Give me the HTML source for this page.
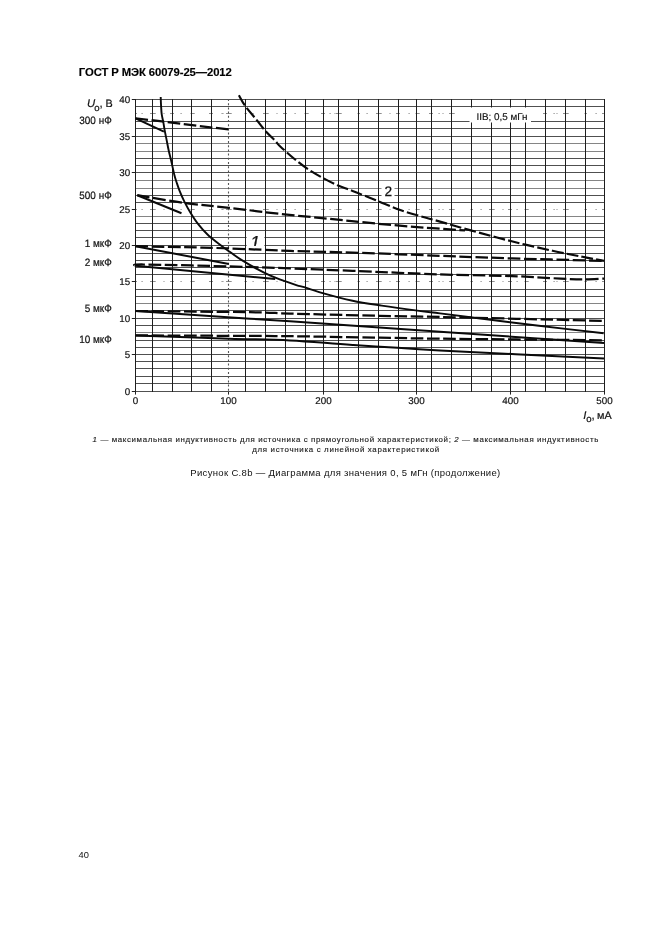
<!DOCTYPE html>
<html lang="ru"><head><meta charset="utf-8"><title>ГОСТ Р МЭК 60079-25—2012</title>
<style>
html,body{margin:0;padding:0;background:#fff;}
body{width:661px;height:936px;position:relative;overflow:hidden;font-family:"Liberation Sans",sans-serif;color:#111;}
.hdr{position:absolute;left:78.8px;top:65px;font-size:11.3px;font-weight:bold;letter-spacing:-0.1px;color:#000;-webkit-text-stroke:0.15px #000;white-space:nowrap;line-height:14px;}
.note{position:absolute;left:92.6px;top:435.2px;width:520px;font-size:7.9px;line-height:10.3px;letter-spacing:0.62px;-webkit-text-stroke:0.15px #222;text-align:left;word-spacing:-0.1px;color:#222;}
.note .l1{display:block;letter-spacing:0.645px;text-align:left;white-space:nowrap;}
.note .l2{display:block;letter-spacing:0.7px;text-align:left;padding-left:159.6px;white-space:nowrap;}
.cap{position:absolute;left:190.3px;top:467px;text-align:left;font-size:9.5px;letter-spacing:0.33px;line-height:12px;white-space:nowrap;}
.pg{position:absolute;left:78.5px;top:849px;font-size:9.3px;line-height:12px;letter-spacing:0.2px;}
</style></head><body>
<div class="hdr">ГОСТ Р МЭК 60079-25—2012</div>
<svg width="661" height="936" viewBox="0 0 661 936" style="position:absolute;left:0;top:0" text-rendering="geometricPrecision"><g shape-rendering="auto"><line x1="135" y1="391.50" x2="605" y2="391.50" stroke="#505050" stroke-width="1.0"/><line x1="135" y1="383.50" x2="605" y2="383.50" stroke="#505050" stroke-width="1.0"/><line x1="135" y1="376.50" x2="605" y2="376.50" stroke="#505050" stroke-width="1.0"/><line x1="135" y1="368.50" x2="605" y2="368.50" stroke="#505050" stroke-width="1.0"/><line x1="135" y1="361.50" x2="605" y2="361.50" stroke="#505050" stroke-width="1.0"/><line x1="135" y1="354.50" x2="605" y2="354.50" stroke="#505050" stroke-width="1.0"/><line x1="135" y1="347.50" x2="605" y2="347.50" stroke="#505050" stroke-width="1.0"/><line x1="135" y1="340.50" x2="605" y2="340.50" stroke="#505050" stroke-width="1.0"/><line x1="135" y1="332.50" x2="605" y2="332.50" stroke="#858585" stroke-width="1.0"/><line x1="135" y1="325.50" x2="605" y2="325.50" stroke="#505050" stroke-width="1.0"/><line x1="135" y1="318.50" x2="605" y2="318.50" stroke="#505050" stroke-width="1.0"/><line x1="135" y1="310.50" x2="605" y2="310.50" stroke="#505050" stroke-width="1.0"/><line x1="135" y1="303.50" x2="605" y2="303.50" stroke="#858585" stroke-width="1.0"/><line x1="135" y1="296.50" x2="605" y2="296.50" stroke="#505050" stroke-width="1.0"/><line x1="135" y1="289.50" x2="605" y2="289.50" stroke="#505050" stroke-width="1.0"/><path d="M135.5 281.5H137.0M141.5 281.5h1.2M150.0 281.5H155.7M163.5 281.5h1M170.0 281.5H174.0M180.5 281.5h1.2M190.5 281.5H194.7M209.0 281.5H213.0M221.5 281.5h1.2M222.5 281.5h1M226.0 281.5H231.7M244.5 281.5H247.0M252.5 281.5h1.2M263.0 281.5H268.7M276.5 281.5h1M283.0 281.5H287.0M294.5 281.5h1.2M304.5 281.5H308.7M321.0 281.5H325.0M329.5 281.5h1.2M334.5 281.5h1M336.0 281.5H341.7M357.5 281.5H360.0M366.5 281.5h1.2M376.0 281.5H381.7M389.5 281.5h1M396.0 281.5H400.0M408.5 281.5h1.2M415.5 281.5H419.7M429.0 281.5H433.0M438.5 281.5h1.2M442.5 281.5h1M449.0 281.5H454.7M470.5 281.5H473.0M480.5 281.5h1.2M489.0 281.5H494.7M502.5 281.5h1M508.0 281.5H512.0M516.5 281.5h1.2M524.5 281.5H528.7M543.0 281.5H547.0M553.5 281.5h1.2M556.5 281.5h1M563.0 281.5H568.7M584.5 281.5H587.0M595.5 281.5h1.2M602.0 281.5H604.5" stroke="#8e8e8e" stroke-width="1" fill="none"/><line x1="135" y1="274.50" x2="605" y2="274.50" stroke="#505050" stroke-width="1.0"/><line x1="135" y1="267.50" x2="605" y2="267.50" stroke="#505050" stroke-width="1.0"/><line x1="135" y1="260.50" x2="605" y2="260.50" stroke="#505050" stroke-width="1.0"/><line x1="135" y1="253.50" x2="605" y2="253.50" stroke="#505050" stroke-width="1.0"/><line x1="135" y1="245.50" x2="605" y2="245.50" stroke="#505050" stroke-width="1.0"/><line x1="135" y1="237.50" x2="605" y2="237.50" stroke="#505050" stroke-width="1.0"/><line x1="135" y1="230.50" x2="605" y2="230.50" stroke="#505050" stroke-width="1.0"/><line x1="135" y1="223.50" x2="605" y2="223.50" stroke="#505050" stroke-width="1.0"/><line x1="135" y1="216.50" x2="605" y2="216.50" stroke="#858585" stroke-width="1.0"/><path d="M135.5 209.5H137.0M141.5 209.5h1.2M150.0 209.5H155.7M163.5 209.5h1M170.0 209.5H174.0M180.5 209.5h1.2M190.5 209.5H194.7M209.0 209.5H213.0M221.5 209.5h1.2M222.5 209.5h1M226.0 209.5H231.7M244.5 209.5H247.0M252.5 209.5h1.2M263.0 209.5H268.7M276.5 209.5h1M283.0 209.5H287.0M294.5 209.5h1.2M304.5 209.5H308.7M321.0 209.5H325.0M329.5 209.5h1.2M334.5 209.5h1M336.0 209.5H341.7M357.5 209.5H360.0M366.5 209.5h1.2M376.0 209.5H381.7M389.5 209.5h1M396.0 209.5H400.0M408.5 209.5h1.2M415.5 209.5H419.7M429.0 209.5H433.0M438.5 209.5h1.2M442.5 209.5h1M449.0 209.5H454.7M470.5 209.5H473.0M480.5 209.5h1.2M489.0 209.5H494.7M502.5 209.5h1M508.0 209.5H512.0M516.5 209.5h1.2M524.5 209.5H528.7M543.0 209.5H547.0M553.5 209.5h1.2M556.5 209.5h1M563.0 209.5H568.7M584.5 209.5H587.0M595.5 209.5h1.2M602.0 209.5H604.5" stroke="#8e8e8e" stroke-width="1" fill="none"/><line x1="135" y1="202.50" x2="605" y2="202.50" stroke="#505050" stroke-width="1.0"/><line x1="135" y1="195.50" x2="605" y2="195.50" stroke="#505050" stroke-width="1.0"/><line x1="135" y1="188.50" x2="605" y2="188.50" stroke="#858585" stroke-width="1.0"/><line x1="135" y1="180.50" x2="605" y2="180.50" stroke="#858585" stroke-width="1.0"/><line x1="135" y1="172.50" x2="605" y2="172.50" stroke="#505050" stroke-width="1.0"/><line x1="135" y1="165.50" x2="605" y2="165.50" stroke="#505050" stroke-width="1.0"/><line x1="135" y1="158.50" x2="605" y2="158.50" stroke="#505050" stroke-width="1.0"/><line x1="135" y1="151.50" x2="605" y2="151.50" stroke="#858585" stroke-width="1.0"/><line x1="135" y1="143.50" x2="605" y2="143.50" stroke="#858585" stroke-width="1.0"/><line x1="135" y1="136.50" x2="605" y2="136.50" stroke="#505050" stroke-width="1.0"/><line x1="135" y1="128.50" x2="605" y2="128.50" stroke="#505050" stroke-width="1.0"/><line x1="135" y1="121.50" x2="605" y2="121.50" stroke="#505050" stroke-width="1.0"/><path d="M135.5 113.5H137.0M141.5 113.5h1.2M150.0 113.5H155.7M163.5 113.5h1M170.0 113.5H174.0M180.5 113.5h1.2M190.5 113.5H194.7M209.0 113.5H213.0M221.5 113.5h1.2M222.5 113.5h1M226.0 113.5H231.7M244.5 113.5H247.0M252.5 113.5h1.2M263.0 113.5H268.7M276.5 113.5h1M283.0 113.5H287.0M294.5 113.5h1.2M304.5 113.5H308.7M321.0 113.5H325.0M329.5 113.5h1.2M334.5 113.5h1M336.0 113.5H341.7M357.5 113.5H360.0M366.5 113.5h1.2M376.0 113.5H381.7M389.5 113.5h1M396.0 113.5H400.0M408.5 113.5h1.2M415.5 113.5H419.7M429.0 113.5H433.0M438.5 113.5h1.2M442.5 113.5h1M449.0 113.5H454.7M470.5 113.5H473.0M480.5 113.5h1.2M489.0 113.5H494.7M502.5 113.5h1M508.0 113.5H512.0M516.5 113.5h1.2M524.5 113.5H528.7M543.0 113.5H547.0M553.5 113.5h1.2M556.5 113.5h1M563.0 113.5H568.7M584.5 113.5H587.0M595.5 113.5h1.2M602.0 113.5H604.5" stroke="#8e8e8e" stroke-width="1" fill="none"/><line x1="135" y1="106.50" x2="605" y2="106.50" stroke="#505050" stroke-width="1.0"/><line x1="135" y1="99.50" x2="605" y2="99.50" stroke="#505050" stroke-width="1.0"/><line x1="135.5" y1="99.00" x2="135.5" y2="392.0" stroke="#1e1e1e" stroke-width="1.0"/><line x1="152.5" y1="99.00" x2="152.5" y2="392.0" stroke="#1e1e1e" stroke-width="1.0"/><line x1="172.5" y1="99.00" x2="172.5" y2="392.0" stroke="#1e1e1e" stroke-width="1.0"/><line x1="191.5" y1="99.00" x2="191.5" y2="392.0" stroke="#1e1e1e" stroke-width="1.0"/><line x1="211.5" y1="99.00" x2="211.5" y2="392.0" stroke="#1e1e1e" stroke-width="1.0"/><line x1="228.5" y1="99.00" x2="228.5" y2="392.0" stroke="#555" stroke-width="1.1" stroke-dasharray="2 2.2"/><line x1="245.5" y1="99.00" x2="245.5" y2="392.0" stroke="#1e1e1e" stroke-width="1.0"/><line x1="265.5" y1="99.00" x2="265.5" y2="392.0" stroke="#1e1e1e" stroke-width="1.0"/><line x1="285.5" y1="99.00" x2="285.5" y2="392.0" stroke="#1e1e1e" stroke-width="1.0"/><line x1="305.5" y1="99.00" x2="305.5" y2="392.0" stroke="#1e1e1e" stroke-width="1.0"/><line x1="323.5" y1="99.00" x2="323.5" y2="392.0" stroke="#1e1e1e" stroke-width="1.0"/><line x1="338.5" y1="99.00" x2="338.5" y2="392.0" stroke="#1e1e1e" stroke-width="1.0"/><line x1="358.5" y1="99.00" x2="358.5" y2="392.0" stroke="#1e1e1e" stroke-width="1.0"/><line x1="378.5" y1="99.00" x2="378.5" y2="392.0" stroke="#1e1e1e" stroke-width="1.0"/><line x1="398.5" y1="99.00" x2="398.5" y2="392.0" stroke="#1e1e1e" stroke-width="1.0"/><line x1="416.5" y1="99.00" x2="416.5" y2="392.0" stroke="#1e1e1e" stroke-width="1.0"/><line x1="431.5" y1="99.00" x2="431.5" y2="392.0" stroke="#1e1e1e" stroke-width="1.0"/><line x1="451.5" y1="99.00" x2="451.5" y2="392.0" stroke="#1e1e1e" stroke-width="1.0"/><line x1="471.5" y1="99.00" x2="471.5" y2="392.0" stroke="#1e1e1e" stroke-width="1.0"/><line x1="491.5" y1="99.00" x2="491.5" y2="392.0" stroke="#1e1e1e" stroke-width="1.0"/><line x1="510.5" y1="99.00" x2="510.5" y2="392.0" stroke="#1e1e1e" stroke-width="1.0"/><line x1="525.5" y1="99.00" x2="525.5" y2="392.0" stroke="#1e1e1e" stroke-width="1.0"/><line x1="545.5" y1="99.00" x2="545.5" y2="392.0" stroke="#1e1e1e" stroke-width="1.0"/><line x1="565.5" y1="99.00" x2="565.5" y2="392.0" stroke="#1e1e1e" stroke-width="1.0"/><line x1="585.5" y1="99.00" x2="585.5" y2="392.0" stroke="#1e1e1e" stroke-width="1.0"/><line x1="604.5" y1="99.00" x2="604.5" y2="392.0" stroke="#1e1e1e" stroke-width="1.0"/><line x1="131.8" y1="391.50" x2="135.5" y2="391.50" stroke="#222" stroke-width="1"/><line x1="131.8" y1="354.50" x2="135.5" y2="354.50" stroke="#222" stroke-width="1"/><line x1="131.8" y1="318.50" x2="135.5" y2="318.50" stroke="#222" stroke-width="1"/><line x1="131.8" y1="281.50" x2="135.5" y2="281.50" stroke="#222" stroke-width="1"/><line x1="131.8" y1="245.50" x2="135.5" y2="245.50" stroke="#222" stroke-width="1"/><line x1="131.8" y1="209.50" x2="135.5" y2="209.50" stroke="#222" stroke-width="1"/><line x1="131.8" y1="172.50" x2="135.5" y2="172.50" stroke="#222" stroke-width="1"/><line x1="131.8" y1="136.50" x2="135.5" y2="136.50" stroke="#222" stroke-width="1"/><line x1="131.8" y1="99.50" x2="135.5" y2="99.50" stroke="#222" stroke-width="1"/><line x1="135.5" y1="392.0" x2="135.5" y2="394.6" stroke="#222" stroke-width="1"/><line x1="228.5" y1="392.0" x2="228.5" y2="394.6" stroke="#222" stroke-width="1"/><line x1="323.5" y1="392.0" x2="323.5" y2="394.6" stroke="#222" stroke-width="1"/><line x1="416.5" y1="392.0" x2="416.5" y2="394.6" stroke="#222" stroke-width="1"/><line x1="510.5" y1="392.0" x2="510.5" y2="394.6" stroke="#222" stroke-width="1"/><line x1="604.5" y1="392.0" x2="604.5" y2="394.6" stroke="#222" stroke-width="1"/></g><path d="M160.7 97.0 C160.8 98.2 160.8 101.6 161.0 104.5 C161.2 107.4 161.3 111.4 161.7 114.2 C162.1 117.0 162.7 118.9 163.2 121.5 C163.7 124.1 164.1 127.1 164.6 129.9 C165.1 132.7 165.6 135.0 166.3 138.4 C167.0 141.8 167.8 146.5 168.7 150.5 C169.6 154.5 170.7 158.6 171.6 162.6 C172.5 166.6 173.5 171.5 174.3 174.7 C175.1 177.9 175.6 179.3 176.5 182.0 C177.4 184.7 178.3 187.6 179.6 190.9 C180.9 194.2 182.7 198.2 184.5 201.8 C186.3 205.4 188.3 209.1 190.5 212.7 C192.7 216.3 195.0 220.0 197.8 223.6 C200.6 227.2 204.1 231.2 207.5 234.5 C210.9 237.8 214.8 240.6 218.4 243.4 C222.0 246.2 225.4 248.7 229.2 251.4 C233.0 254.2 236.9 257.1 241.4 259.9 C245.9 262.7 251.1 265.8 255.9 268.4 C260.7 271.0 265.6 273.5 270.4 275.6 C275.2 277.7 280.5 279.6 284.9 281.2 C289.3 282.8 293.8 284.3 297.0 285.3 C300.2 286.3 299.8 285.9 304.2 287.2 C308.6 288.5 315.5 291.1 323.6 293.3 C331.7 295.6 342.9 298.6 352.6 300.7 C362.3 302.8 371.2 304.0 381.7 305.6 C392.2 307.2 405.9 309.1 415.6 310.4 C425.3 311.7 428.5 312.0 440.0 313.4 C451.5 314.8 468.0 316.9 484.5 319.0 C501.0 321.1 519.0 323.4 538.9 325.8 C558.8 328.2 592.9 332.0 603.7 333.2" fill="none" stroke="#0a0a0a" stroke-width="1.9"/><path d="M238.9 95.3 C239.9 97.0 242.2 101.8 245.0 105.7 C247.8 109.7 252.5 114.8 255.9 119.0 C259.3 123.2 262.4 127.6 265.6 131.2 C268.8 134.8 272.8 138.3 275.2 140.8 C277.6 143.3 276.8 143.2 280.0 146.2 C283.2 149.2 289.7 155.1 294.5 159.0 C299.3 162.9 304.1 166.7 309.0 169.9 C313.9 173.1 318.8 175.8 323.6 178.4 C328.5 181.0 333.3 183.5 338.1 185.6 C342.9 187.7 346.2 188.4 352.6 190.9 C359.1 193.4 368.7 197.4 376.8 200.6 C384.9 203.8 392.9 207.5 401.0 210.3 C409.1 213.1 418.7 215.6 425.2 217.5 C431.7 219.4 432.4 219.4 440.0 221.6 C447.6 223.8 458.9 227.1 470.8 230.4 C482.8 233.7 498.1 237.9 511.7 241.3 C525.3 244.7 540.7 248.2 552.5 250.8 C564.3 253.4 573.9 255.1 582.5 256.8 C591.1 258.5 600.4 260.2 604.0 260.9" fill="none" stroke="#0a0a0a" stroke-width="2.15" stroke-dasharray="11.8 3.2"/><path d="M135.5 118.3 L163.9 131.6" fill="none" stroke="#0a0a0a" stroke-width="2.0"/><path d="M135.5 118.3 L228.8 129.5" fill="none" stroke="#0a0a0a" stroke-width="2.25" stroke-dasharray="12.6 3.6"/><path d="M137.3 195.2 L181.5 213.3" fill="none" stroke="#0a0a0a" stroke-width="2.0"/><path d="M137.3 195.2 C145.2 196.5 169.2 200.9 184.5 203.0 C199.8 205.1 213.3 206.0 229.2 207.8 C245.1 209.6 263.5 212.1 280.0 213.9 C296.5 215.7 312.3 217.1 328.4 218.7 C344.5 220.3 360.7 222.1 376.8 223.6 C392.9 225.1 410.5 226.6 425.2 227.7 C439.9 228.8 458.4 229.9 465.0 230.4" fill="none" stroke="#0a0a0a" stroke-width="2.25" stroke-dasharray="12.6 3.6"/><path d="M135.5 246.2 L228.8 264.0" fill="none" stroke="#0a0a0a" stroke-width="2.0"/><path d="M135.5 246.2 C143.7 246.4 168.9 246.8 184.5 247.2 C200.1 247.6 211.6 247.8 229.2 248.4 C246.8 249.0 269.4 250.2 290.0 250.9 C310.6 251.6 327.6 251.8 352.6 252.6 C377.6 253.4 413.5 254.8 440.0 255.8 C466.5 256.8 484.4 257.5 511.7 258.4 C539.0 259.2 588.6 260.5 604.0 260.9" fill="none" stroke="#0a0a0a" stroke-width="2.25" stroke-dasharray="12.6 3.6"/><path d="M135.5 265.7 L275.2 279.0" fill="none" stroke="#0a0a0a" stroke-width="2.0"/><path d="M135.5 265.7 C136.8 265.5 127.9 264.4 143.5 264.5 C159.1 264.6 204.8 265.8 229.2 266.4 C253.6 267.0 269.4 267.7 290.0 268.4 C310.6 269.1 327.6 269.8 352.6 270.8 C377.6 271.8 413.5 273.5 440.0 274.4 C466.5 275.3 491.6 275.4 511.7 276.1 C531.8 276.8 548.9 278.1 560.7 278.6 C572.5 279.2 575.3 279.4 582.5 279.4 C589.7 279.4 600.4 278.7 604.0 278.6" fill="none" stroke="#0a0a0a" stroke-width="2.25" stroke-dasharray="12.6 3.6"/><path d="M135.5 311.0 L250.0 318.7 L290.0 321.3 L440.0 331.7 L604.0 343.0" fill="none" stroke="#0a0a0a" stroke-width="2.0"/><path d="M135.5 311.0 C154.6 311.2 224.2 311.8 250.0 312.2 C275.8 312.6 271.7 313.1 290.0 313.6 C308.3 314.1 335.0 314.8 360.0 315.4 C385.0 316.0 399.3 316.1 440.0 317.0 C480.7 317.9 576.7 320.2 604.0 320.9" fill="none" stroke="#0a0a0a" stroke-width="2.25" stroke-dasharray="12.6 3.6"/><path d="M135.5 335.4 C151.1 335.9 203.4 337.9 229.2 338.7 C254.9 339.5 269.4 339.3 290.0 340.4 C310.6 341.4 327.6 343.3 352.6 345.0 C377.6 346.7 398.1 348.1 440.0 350.4 C481.9 352.6 576.7 357.1 604.0 358.5" fill="none" stroke="#0a0a0a" stroke-width="2.0"/><path d="M135.5 335.4 C154.6 335.5 224.2 335.8 250.0 335.9 C275.8 336.0 271.7 336.0 290.0 336.2 C308.3 336.4 335.0 336.9 360.0 337.3 C385.0 337.7 399.3 338.2 440.0 338.7 C480.7 339.2 576.7 340.0 604.0 340.3" fill="none" stroke="#0a0a0a" stroke-width="2.25" stroke-dasharray="12.6 3.6"/><rect x="246.6" y="232" width="17.8" height="15.2" fill="#fff"/><rect x="381.5" y="184" width="13" height="15" fill="#fff"/><rect x="469.5" y="107.5" width="61.5" height="15" fill="#fff"/><clipPath id="cl1"><rect x="246" y="230" width="19" height="15.95"/></clipPath><text x="250.3" y="247.6" font-family="Liberation Sans, sans-serif" fill="#111" font-size="17.4" font-style="italic" clip-path="url(#cl1)" stroke="#111" stroke-width="0.3">1</text><text x="388.3" y="195.8" font-family="Liberation Sans, sans-serif" fill="#111" font-size="13.7" text-anchor="middle" stroke="#111" stroke-width="0.25">2</text><text x="502" y="120.4" font-family="Liberation Sans, sans-serif" fill="#111" font-size="9.9" text-anchor="middle" stroke="#111" stroke-width="0.15">IIB; 0,5 мГн</text><text x="130.2" y="395.2" font-family="Liberation Sans, sans-serif" fill="#111" font-size="9.8" text-anchor="end" stroke="#111" stroke-width="0.2">0</text><text x="130.2" y="358.2" font-family="Liberation Sans, sans-serif" fill="#111" font-size="9.8" text-anchor="end" stroke="#111" stroke-width="0.2">5</text><text x="130.2" y="322.2" font-family="Liberation Sans, sans-serif" fill="#111" font-size="9.8" text-anchor="end" stroke="#111" stroke-width="0.2">10</text><text x="130.2" y="285.2" font-family="Liberation Sans, sans-serif" fill="#111" font-size="9.8" text-anchor="end" stroke="#111" stroke-width="0.2">15</text><text x="130.2" y="249.2" font-family="Liberation Sans, sans-serif" fill="#111" font-size="9.8" text-anchor="end" stroke="#111" stroke-width="0.2">20</text><text x="130.2" y="213.2" font-family="Liberation Sans, sans-serif" fill="#111" font-size="9.8" text-anchor="end" stroke="#111" stroke-width="0.2">25</text><text x="130.2" y="176.2" font-family="Liberation Sans, sans-serif" fill="#111" font-size="9.8" text-anchor="end" stroke="#111" stroke-width="0.2">30</text><text x="130.2" y="140.2" font-family="Liberation Sans, sans-serif" fill="#111" font-size="9.8" text-anchor="end" stroke="#111" stroke-width="0.2">35</text><text x="130.2" y="103.2" font-family="Liberation Sans, sans-serif" fill="#111" font-size="9.8" text-anchor="end" stroke="#111" stroke-width="0.2">40</text><text x="135.5" y="404.1" font-family="Liberation Sans, sans-serif" fill="#111" font-size="9.8" text-anchor="middle" stroke="#111" stroke-width="0.2">0</text><text x="228.5" y="404.1" font-family="Liberation Sans, sans-serif" fill="#111" font-size="9.8" text-anchor="middle" stroke="#111" stroke-width="0.2">100</text><text x="323.5" y="404.1" font-family="Liberation Sans, sans-serif" fill="#111" font-size="9.8" text-anchor="middle" stroke="#111" stroke-width="0.2">200</text><text x="416.5" y="404.1" font-family="Liberation Sans, sans-serif" fill="#111" font-size="9.8" text-anchor="middle" stroke="#111" stroke-width="0.2">300</text><text x="510.5" y="404.1" font-family="Liberation Sans, sans-serif" fill="#111" font-size="9.8" text-anchor="middle" stroke="#111" stroke-width="0.2">400</text><text x="604.5" y="404.1" font-family="Liberation Sans, sans-serif" fill="#111" font-size="9.8" text-anchor="middle" stroke="#111" stroke-width="0.2">500</text><text transform="translate(111.7 123.5) scale(0.93 1)" font-family="Liberation Sans, sans-serif" fill="#111" font-size="10.7" text-anchor="end" stroke="#111" stroke-width="0.2">300 нФ</text><text transform="translate(111.7 198.9) scale(0.93 1)" font-family="Liberation Sans, sans-serif" fill="#111" font-size="10.7" text-anchor="end" stroke="#111" stroke-width="0.2">500 нФ</text><text transform="translate(111.7 247.0) scale(0.93 1)" font-family="Liberation Sans, sans-serif" fill="#111" font-size="10.7" text-anchor="end" stroke="#111" stroke-width="0.2">1 мкФ</text><text transform="translate(111.7 266.1) scale(0.93 1)" font-family="Liberation Sans, sans-serif" fill="#111" font-size="10.7" text-anchor="end" stroke="#111" stroke-width="0.2">2 мкФ</text><text transform="translate(111.7 312.2) scale(0.93 1)" font-family="Liberation Sans, sans-serif" fill="#111" font-size="10.7" text-anchor="end" stroke="#111" stroke-width="0.2">5 мкФ</text><text transform="translate(111.7 342.8) scale(0.93 1)" font-family="Liberation Sans, sans-serif" fill="#111" font-size="10.7" text-anchor="end" stroke="#111" stroke-width="0.2">10 мкФ</text><text font-family="Liberation Sans, sans-serif" fill="#111" font-size="11.3" stroke="#111" stroke-width="0.2"><tspan x="87.0" y="107.3" font-style="italic">U</tspan><tspan x="94.2" y="110.8" font-size="9.6">о</tspan><tspan x="99.6" y="107.3">,</tspan><tspan x="105.4" y="107.3" font-size="10.8">В</tspan></text><text font-family="Liberation Sans, sans-serif" fill="#111" font-size="11.3" stroke="#111" stroke-width="0.2"><tspan x="583.2" y="418.5" font-style="italic">I</tspan><tspan x="586.2" y="422" font-size="9.6">о</tspan><tspan x="591.6" y="418.5">,</tspan><tspan x="597" y="418.5" font-size="10.8">мА</tspan></text></svg>
<div class="note"><span class="l1"><i>1</i> — максимальная индуктивность для источника с прямоугольной характеристикой; <i>2</i> — максимальная индуктивность</span><span class="l2">для источника с линейной характеристикой</span></div>
<div class="cap">Рисунок С.8b — Диаграмма для значения 0, 5 мГн (продолжение)</div>
<div class="pg">40</div>
</body></html>
